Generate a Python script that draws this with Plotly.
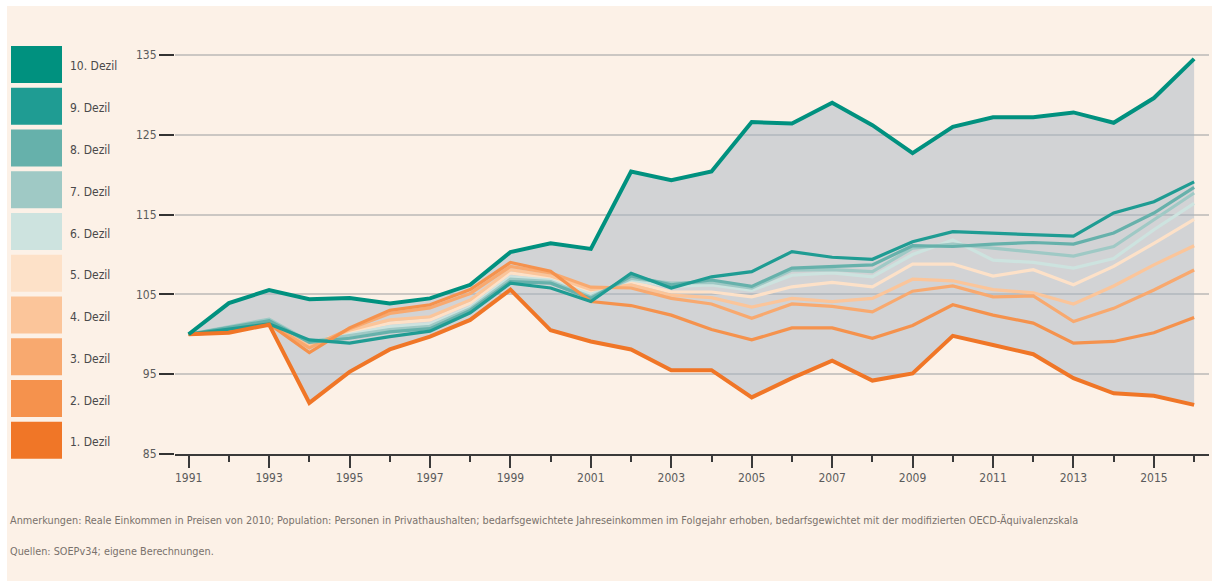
import plotly.graph_objects as go

years = list(range(1991, 2017))

names = ["1. Dezil", "2. Dezil", "3. Dezil", "4. Dezil", "5. Dezil",
         "6. Dezil", "7. Dezil", "8. Dezil", "9. Dezil", "10. Dezil"]
colors = ["#f07627", "#f5924d", "#f8a96f", "#fbc59a", "#fde1c8",
          "#cde3df", "#9fc9c5", "#66b1ab", "#1f9c93", "#00917f"]

d1 = [100, 100.2, 101.2, 91.4, 95.3, 98.1, 99.7, 101.8, 105.6, 100.5, 99.1, 98.1, 95.5,
      95.5, 92.1, 94.5, 96.7, 94.2, 95.1, 99.8, 98.65, 97.5, 94.5, 92.6, 92.3, 91.15]
d2 = [100, 100.3, 101.3, 97.7, 100.8, 103.0, 103.7, 105.6, 109.0, 107.9, 104.1, 103.6, 102.4,
      100.6, 99.3, 100.8, 100.8, 99.5, 101.1, 103.7, 102.4, 101.4, 98.9, 99.1, 100.2, 102.1]
d3 = [100, 100.4, 101.4, 98.3, 100.7, 102.6, 103.3, 105.1, 108.5, 107.7, 105.9, 105.8, 104.5,
      103.8, 102.0, 103.8, 103.5, 102.8, 105.4, 106.05, 104.7, 104.8, 101.6, 103.25, 105.55, 108.05]
d4 = [100, 100.5, 101.5, 98.6, 100.5, 101.8, 102.2, 104.3, 108.1, 107.3, 105.6, 106.2, 104.9,
      104.6, 103.4, 104.5, 104.1, 104.5, 106.9, 106.7, 105.6, 105.2, 103.8, 106.05, 108.7, 111.1]
d5 = [100, 100.6, 101.6, 98.8, 100.3, 101.4, 101.8, 103.9, 107.7, 107.0, 105.3, 106.6, 105.3,
      105.3, 104.7, 105.95, 106.5, 105.95, 108.8, 108.8, 107.3, 108.1, 106.2, 108.5, 111.4, 114.4]
d6 = [100, 100.9, 101.8, 98.9, 100.0, 100.95, 101.3, 103.4, 107.2, 106.8, 105.0, 106.8, 106.0,
      106.2, 105.5, 107.4, 107.7, 107.2, 110.0, 111.8, 109.3, 109.0, 108.3, 109.5, 113.1, 116.4]
d7 = [100, 101.0, 101.9, 99.1, 99.8, 100.6, 101.0, 103.2, 106.9, 106.6, 104.7, 107.0, 106.4,
      106.5, 105.8, 108.05, 108.1, 107.85, 110.8, 111.3, 110.8, 110.35, 109.8, 111.0, 114.3, 117.7]
d8 = [100, 100.8, 101.7, 99.0, 99.5, 100.3, 100.7, 103.0, 106.6, 106.4, 104.5, 107.3, 106.2,
      106.8, 106.0, 108.3, 108.5, 108.7, 111.1, 111.0, 111.3, 111.5, 111.3, 112.7, 115.2, 118.4]
d9 = [100, 100.6, 101.3, 99.3, 98.9, 99.7, 100.4, 102.7, 106.4, 105.8, 104.1, 107.65, 105.8,
      107.2, 107.85, 110.35, 109.65, 109.4, 111.6, 112.85, 112.7, 112.45, 112.3, 115.2, 116.6, 119.1]
d10 = [100, 103.9, 105.55, 104.4, 104.55, 103.85, 104.5, 106.2, 110.3, 111.4, 110.7, 120.4, 119.3,
       120.4, 126.6, 126.4, 129.0, 126.2, 122.7, 126.0, 127.2, 127.2, 127.8, 126.5, 129.6, 134.5]

series = [d1, d2, d3, d4, d5, d6, d7, d8, d9, d10]

y_ticks = [85, 95, 105, 115, 125, 135]

note1 = ("Anmerkungen: Reale Einkommen in Preisen von 2010; Population: Personen in Privathaushalten; "
         "bedarfsgewichtete Jahreseinkommen im Folgejahr erhoben, bedarfsgewichtet mit der "
         "modifizierten OECD-Äquivalenzskala")
note2 = "Quellen: SOEPv34; eigene Berechnungen."

FONT = "Liberation Sans Narrow, DejaVu Sans Condensed, Arial Narrow, sans-serif"
BG = "#fcf1e7"

W, H = 1212, 581
ML, MR, MT, MB = 175, 3, 35, 127
PW, PH = W - ML - MR, H - MT - MB


def px_x(px):
    return (px - ML) / PW


def px_y(py):
    return (H - MB - py) / PH


fig = go.Figure()

# band between lowest and highest decile
fig.add_trace(go.Scatter(x=years, y=d1, mode="lines", line=dict(width=0),
                         showlegend=False, hoverinfo="skip"))
fig.add_trace(go.Scatter(x=years, y=d10, mode="lines", line=dict(width=0),
                         fill="tonexty", fillcolor="rgba(168,181,195,0.5)",
                         showlegend=False, hoverinfo="skip"))

order = [4, 5, 3, 6, 2, 7, 1, 8, 0, 9]
for i in order:
    w = 4 if i in (0, 9) else 3.2
    fig.add_trace(go.Scatter(x=years, y=series[i], mode="lines", name=names[i],
                             line=dict(color=colors[i], width=w), showlegend=False))

shapes = []
annotations = []
# custom legend: big swatches
for k in range(10):
    i = 9 - k
    top = 46 + k * 41.75
    bot = top + 37
    shapes.append(dict(type="rect", xref="paper", yref="paper",
                       x0=px_x(11), x1=px_x(62), y0=px_y(bot), y1=px_y(top),
                       fillcolor=colors[i], line=dict(width=0)))
    annotations.append(dict(text=names[i], xref="paper", yref="paper",
                            x=px_x(68), y=px_y((top + bot) / 2 + 2),
                            xanchor="left", yanchor="middle", showarrow=False,
                            font=dict(family=FONT, size=12, color="#4a4a4a")))

annotations.append(dict(text=note1, xref="paper", yref="paper", x=px_x(8), y=px_y(520),
                        xanchor="left", yanchor="middle", showarrow=False,
                        font=dict(family=FONT, size=10.8, color="#7a726c")))
annotations.append(dict(text=note2, xref="paper", yref="paper", x=px_x(8), y=px_y(551),
                        xanchor="left", yanchor="middle", showarrow=False,
                        font=dict(family=FONT, size=10.8, color="#7a726c")))

# white page edge (top and left)
shapes.append(dict(type="rect", xref="paper", yref="paper", layer="above",
                   x0=px_x(0), x1=px_x(7), y0=px_y(H), y1=px_y(0),
                   fillcolor="white", line=dict(width=0)))
shapes.append(dict(type="rect", xref="paper", yref="paper", layer="above",
                   x0=px_x(0), x1=px_x(W), y0=px_y(6), y1=px_y(0),
                   fillcolor="white", line=dict(width=0)))

fig.update_layout(
    width=W, height=H,
    margin=dict(l=ML, r=MR, t=MT, b=MB),
    paper_bgcolor=BG, plot_bgcolor=BG,
    showlegend=False,
    shapes=shapes, annotations=annotations,
    font=dict(family=FONT, color="#5b5b5b"),
    xaxis=dict(range=[1990.66, 2016.37], tickmode="linear", tick0=1991, dtick=2,
               showgrid=False, zeroline=False,
               showline=True, linecolor="#3a3a3a", linewidth=2,
               ticks="outside", ticklen=12, tickwidth=2, tickcolor="#3a3a3a",
               minor=dict(ticks="outside", ticklen=6, tickwidth=2, tickcolor="#3a3a3a",
                          dtick=1, tick0=1991, showgrid=False),
               tickfont=dict(family=FONT, size=12, color="#5b5b5b")),
    yaxis=dict(range=[85, 137.5], tickvals=y_ticks, showgrid=True,
               gridcolor="#cbc7c3", gridwidth=1.5, zeroline=False, showline=False,
               ticks="outside", ticklen=15, tickwidth=2, tickcolor="#333333",
               tickfont=dict(family=FONT, size=12, color="#5b5b5b")),
)

fig.write_html("out.html", config={"displayModeBar": False},
               post_script="document.body.style.margin='0';"
                           "document.body.style.overflow='hidden';")
